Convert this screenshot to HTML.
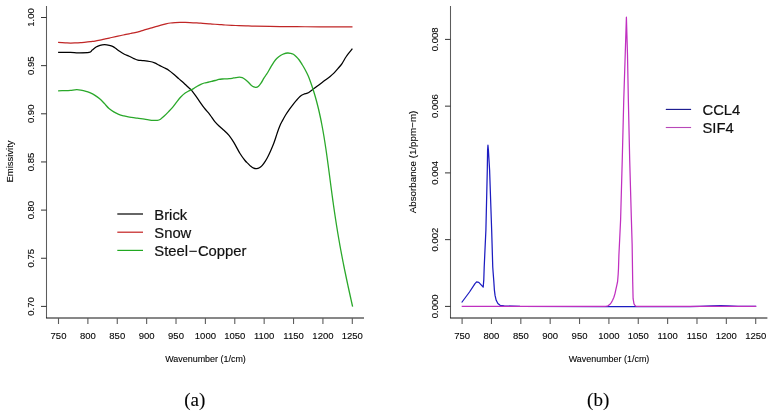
<!DOCTYPE html>
<html><head><meta charset="utf-8"><style>
html,body{margin:0;padding:0;background:#fff;overflow:hidden;}
svg{display:block;filter:blur(0.4px);}
text{font-family:"Liberation Sans", sans-serif;fill:#000;stroke:#222;stroke-width:0.12px;}
.lg{fill:#111;stroke:#111;stroke-width:0.2px;}
</style></head><body>
<svg width="774" height="416" viewBox="0 0 774 416">
<rect width="774" height="416" fill="#fff"/>
<path d="M46.5,6 L46.5,318" fill="none" stroke="#5c5c5c" stroke-width="1.05"/>
<path d="M46,318 L364,318" fill="none" stroke="#111" stroke-width="1"/>
<line x1="41" y1="17.5" x2="46.5" y2="17.5" stroke="#333" stroke-width="1"/>
<text transform="translate(34,17.5) rotate(-90)" text-anchor="middle" font-size="9.5">1.00</text>
<line x1="41" y1="65.65" x2="46.5" y2="65.65" stroke="#333" stroke-width="1"/>
<text transform="translate(34,65.65) rotate(-90)" text-anchor="middle" font-size="9.5">0.95</text>
<line x1="41" y1="113.8" x2="46.5" y2="113.8" stroke="#333" stroke-width="1"/>
<text transform="translate(34,113.8) rotate(-90)" text-anchor="middle" font-size="9.5">0.90</text>
<line x1="41" y1="161.95" x2="46.5" y2="161.95" stroke="#333" stroke-width="1"/>
<text transform="translate(34,161.95) rotate(-90)" text-anchor="middle" font-size="9.5">0.85</text>
<line x1="41" y1="210.1" x2="46.5" y2="210.1" stroke="#333" stroke-width="1"/>
<text transform="translate(34,210.1) rotate(-90)" text-anchor="middle" font-size="9.5">0.80</text>
<line x1="41" y1="258.25" x2="46.5" y2="258.25" stroke="#333" stroke-width="1"/>
<text transform="translate(34,258.25) rotate(-90)" text-anchor="middle" font-size="9.5">0.75</text>
<line x1="41" y1="306.4" x2="46.5" y2="306.4" stroke="#333" stroke-width="1"/>
<text transform="translate(34,306.4) rotate(-90)" text-anchor="middle" font-size="9.5">0.70</text>
<line x1="58.50" y1="318" x2="58.50" y2="324" stroke="#5c5c5c" stroke-width="1.1"/>
<text x="58.50" y="338.7" text-anchor="middle" font-size="9.5">750</text>
<line x1="87.88" y1="318" x2="87.88" y2="324" stroke="#5c5c5c" stroke-width="1.1"/>
<text x="87.88" y="338.7" text-anchor="middle" font-size="9.5">800</text>
<line x1="117.26" y1="318" x2="117.26" y2="324" stroke="#5c5c5c" stroke-width="1.1"/>
<text x="117.26" y="338.7" text-anchor="middle" font-size="9.5">850</text>
<line x1="146.64" y1="318" x2="146.64" y2="324" stroke="#5c5c5c" stroke-width="1.1"/>
<text x="146.64" y="338.7" text-anchor="middle" font-size="9.5">900</text>
<line x1="176.02" y1="318" x2="176.02" y2="324" stroke="#5c5c5c" stroke-width="1.1"/>
<text x="176.02" y="338.7" text-anchor="middle" font-size="9.5">950</text>
<line x1="205.40" y1="318" x2="205.40" y2="324" stroke="#5c5c5c" stroke-width="1.1"/>
<text x="205.40" y="338.7" text-anchor="middle" font-size="9.5">1000</text>
<line x1="234.78" y1="318" x2="234.78" y2="324" stroke="#5c5c5c" stroke-width="1.1"/>
<text x="234.78" y="338.7" text-anchor="middle" font-size="9.5">1050</text>
<line x1="264.16" y1="318" x2="264.16" y2="324" stroke="#5c5c5c" stroke-width="1.1"/>
<text x="264.16" y="338.7" text-anchor="middle" font-size="9.5">1100</text>
<line x1="293.54" y1="318" x2="293.54" y2="324" stroke="#5c5c5c" stroke-width="1.1"/>
<text x="293.54" y="338.7" text-anchor="middle" font-size="9.5">1150</text>
<line x1="322.92" y1="318" x2="322.92" y2="324" stroke="#5c5c5c" stroke-width="1.1"/>
<text x="322.92" y="338.7" text-anchor="middle" font-size="9.5">1200</text>
<line x1="352.30" y1="318" x2="352.30" y2="324" stroke="#5c5c5c" stroke-width="1.1"/>
<text x="352.30" y="338.7" text-anchor="middle" font-size="9.5">1250</text>
<text x="205.5" y="361.8" text-anchor="middle" font-size="8.95">Wavenumber (1/cm)</text>
<text transform="translate(13,161.5) rotate(-90)" text-anchor="middle" font-size="9.5">Emissivity</text>
<path d="M58.10,42.40 C59.30,42.47 63.23,42.69 65.30,42.80 C67.37,42.91 68.77,43.03 70.50,43.05 C72.23,43.07 73.98,42.97 75.70,42.90 C77.42,42.83 79.08,42.72 80.80,42.60 C82.52,42.48 84.27,42.37 86.00,42.20 C87.73,42.03 89.70,41.78 91.20,41.60 C92.70,41.42 93.53,41.35 95.00,41.10 C96.47,40.85 98.28,40.47 100.00,40.10 C101.72,39.73 103.55,39.29 105.30,38.90 C107.05,38.51 108.77,38.13 110.50,37.75 C112.23,37.37 113.95,36.98 115.70,36.60 C117.45,36.23 119.28,35.87 121.00,35.50 C122.72,35.13 124.42,34.73 126.00,34.40 C127.58,34.07 129.00,33.80 130.50,33.50 C132.00,33.20 133.42,32.97 135.00,32.60 C136.58,32.23 138.28,31.78 140.00,31.30 C141.72,30.82 143.55,30.22 145.30,29.70 C147.05,29.18 148.77,28.70 150.50,28.20 C152.23,27.70 153.95,27.20 155.70,26.70 C157.45,26.20 159.28,25.67 161.00,25.20 C162.72,24.73 164.42,24.27 166.00,23.90 C167.58,23.53 169.00,23.22 170.50,23.00 C172.00,22.78 173.42,22.69 175.00,22.60 C176.58,22.51 178.28,22.48 180.00,22.45 C181.72,22.42 183.63,22.42 185.30,22.45 C186.97,22.48 188.27,22.53 190.00,22.60 C191.73,22.68 193.90,22.80 195.70,22.90 C197.50,23.00 199.08,23.08 200.80,23.20 C202.52,23.32 204.38,23.48 206.00,23.60 C207.62,23.73 209.00,23.84 210.50,23.95 C212.00,24.06 213.42,24.14 215.00,24.25 C216.58,24.36 218.28,24.48 220.00,24.60 C221.72,24.73 222.68,24.85 225.30,25.00 C227.92,25.15 232.25,25.35 235.70,25.50 C239.15,25.65 242.78,25.78 246.00,25.90 C249.22,26.02 251.00,26.12 255.00,26.20 C259.00,26.28 264.17,26.33 270.00,26.40 C275.83,26.47 284.17,26.54 290.00,26.60 C295.83,26.66 298.33,26.72 305.00,26.75 C311.67,26.78 322.08,26.79 330.00,26.80 C337.92,26.81 348.75,26.80 352.50,26.80" fill="none" stroke="#c02626" stroke-width="1.25"/>
<path d="M58.10,52.40 C60.17,52.40 67.13,52.33 70.50,52.40 C73.87,52.47 75.20,52.80 78.30,52.80 C81.40,52.80 86.78,52.85 89.10,52.40 C91.42,51.95 91.03,51.00 92.20,50.10 C93.37,49.20 94.80,47.80 96.10,47.00 C97.40,46.20 98.58,45.68 100.00,45.30 C101.42,44.92 103.05,44.70 104.60,44.70 C106.15,44.70 107.88,44.98 109.30,45.30 C110.72,45.62 112.07,46.10 113.10,46.60 C114.13,47.10 114.42,47.52 115.50,48.30 C116.58,49.08 118.12,50.32 119.60,51.30 C121.08,52.28 122.80,53.38 124.40,54.20 C126.00,55.02 127.60,55.47 129.20,56.20 C130.80,56.93 132.55,57.93 134.00,58.60 C135.45,59.27 136.45,59.87 137.90,60.20 C139.35,60.53 140.72,60.38 142.70,60.60 C144.68,60.82 147.82,61.12 149.80,61.50 C151.78,61.88 153.00,62.25 154.60,62.90 C156.20,63.55 157.80,64.58 159.40,65.40 C161.00,66.22 162.60,66.97 164.20,67.80 C165.80,68.63 167.40,69.33 169.00,70.40 C170.60,71.47 172.18,72.83 173.80,74.20 C175.42,75.57 177.08,77.18 178.70,78.60 C180.32,80.02 181.95,81.30 183.50,82.70 C185.05,84.10 186.58,85.65 188.00,87.00 C189.42,88.35 190.33,88.77 192.00,90.80 C193.67,92.83 196.00,96.40 198.00,99.20 C200.00,102.00 202.03,105.03 204.00,107.60 C205.97,110.17 208.03,112.32 209.80,114.60 C211.57,116.88 213.00,119.35 214.60,121.30 C216.20,123.25 217.80,124.77 219.40,126.30 C221.00,127.83 222.60,129.00 224.20,130.50 C225.80,132.00 227.40,133.32 229.00,135.30 C230.60,137.28 231.97,139.37 233.80,142.40 C235.63,145.43 238.13,150.48 240.00,153.50 C241.87,156.52 243.68,158.85 245.00,160.50 C246.32,162.15 246.93,162.44 247.90,163.40 C248.87,164.36 249.83,165.45 250.80,166.25 C251.77,167.05 252.75,167.80 253.70,168.20 C254.65,168.60 255.55,168.73 256.50,168.65 C257.45,168.57 258.43,168.26 259.40,167.70 C260.37,167.14 261.33,166.35 262.30,165.30 C263.27,164.25 264.23,162.92 265.20,161.40 C266.17,159.88 267.13,158.12 268.10,156.20 C269.07,154.28 270.05,152.07 271.00,149.90 C271.95,147.73 272.97,145.38 273.80,143.20 C274.63,141.02 275.33,138.78 276.00,136.80 C276.67,134.82 277.17,133.12 277.80,131.30 C278.43,129.48 279.07,127.60 279.80,125.90 C280.53,124.20 281.23,122.92 282.20,121.10 C283.17,119.28 284.43,116.92 285.60,115.00 C286.77,113.08 288.00,111.30 289.20,109.60 C290.40,107.90 291.60,106.33 292.80,104.80 C294.00,103.27 295.20,101.80 296.40,100.40 C297.60,99.00 298.78,97.43 300.00,96.40 C301.22,95.38 302.48,94.78 303.70,94.25 C304.92,93.72 306.33,93.58 307.30,93.20 C308.27,92.83 308.50,92.68 309.50,92.00 C310.50,91.32 311.98,90.10 313.30,89.10 C314.62,88.10 316.03,87.03 317.40,86.00 C318.77,84.97 320.12,83.93 321.50,82.90 C322.88,81.87 324.32,80.83 325.70,79.80 C327.08,78.77 328.43,77.82 329.80,76.70 C331.17,75.58 332.52,74.48 333.90,73.10 C335.28,71.72 336.72,70.03 338.10,68.40 C339.48,66.77 340.83,65.28 342.20,63.30 C343.57,61.32 344.60,58.93 346.30,56.50 C348.00,54.07 351.38,50.00 352.40,48.70" fill="none" stroke="#000" stroke-width="1.25"/>
<path d="M58.10,90.85 C59.30,90.81 63.23,90.69 65.30,90.60 C67.37,90.51 68.60,90.45 70.50,90.30 C72.40,90.15 74.98,89.73 76.70,89.70 C78.42,89.67 79.25,89.83 80.80,90.10 C82.35,90.37 84.50,90.87 86.00,91.30 C87.50,91.73 88.37,92.07 89.80,92.70 C91.23,93.33 93.00,94.13 94.60,95.10 C96.20,96.07 97.80,97.13 99.40,98.50 C101.00,99.87 102.60,101.62 104.20,103.30 C105.80,104.98 107.40,107.17 109.00,108.60 C110.60,110.03 112.18,110.95 113.80,111.90 C115.42,112.85 117.08,113.65 118.70,114.30 C120.32,114.95 121.90,115.37 123.50,115.80 C125.10,116.23 126.02,116.50 128.30,116.90 C130.58,117.30 134.52,117.83 137.20,118.20 C139.88,118.57 142.00,118.75 144.40,119.10 C146.80,119.45 149.43,120.10 151.60,120.30 C153.77,120.50 155.92,120.48 157.40,120.30 C158.88,120.12 159.37,119.90 160.50,119.20 C161.63,118.50 162.88,117.32 164.20,116.10 C165.52,114.88 167.00,113.37 168.40,111.90 C169.80,110.43 171.20,108.98 172.60,107.30 C174.00,105.62 175.40,103.55 176.80,101.80 C178.20,100.05 179.60,98.27 181.00,96.80 C182.40,95.33 183.80,94.02 185.20,93.00 C186.60,91.98 188.00,91.43 189.40,90.70 C190.80,89.97 192.30,89.35 193.60,88.60 C194.90,87.85 196.00,86.90 197.20,86.20 C198.40,85.50 199.60,84.93 200.80,84.40 C202.00,83.87 203.20,83.36 204.40,83.00 C205.60,82.64 206.80,82.52 208.00,82.25 C209.20,81.98 210.40,81.69 211.60,81.40 C212.80,81.11 214.00,80.83 215.20,80.50 C216.40,80.17 217.60,79.65 218.80,79.40 C220.00,79.15 221.20,79.08 222.40,79.00 C223.60,78.92 224.82,78.97 226.00,78.90 C227.18,78.83 228.47,78.70 229.50,78.60 C230.53,78.50 231.15,78.47 232.20,78.30 C233.25,78.13 234.60,77.78 235.80,77.60 C237.00,77.42 238.32,77.20 239.40,77.20 C240.48,77.20 241.33,77.22 242.30,77.60 C243.27,77.98 244.23,78.76 245.20,79.50 C246.17,80.24 247.15,81.15 248.10,82.05 C249.05,82.95 249.95,84.09 250.90,84.90 C251.85,85.71 252.95,86.50 253.80,86.90 C254.65,87.30 255.27,87.38 256.00,87.30 C256.73,87.22 257.37,87.10 258.20,86.40 C259.03,85.70 260.05,84.48 261.00,83.10 C261.95,81.72 263.07,79.45 263.90,78.10 C264.73,76.75 265.32,76.02 266.00,75.00 C266.68,73.98 267.17,73.40 268.00,72.00 C268.83,70.60 270.00,68.30 271.00,66.60 C272.00,64.90 273.00,63.20 274.00,61.80 C275.00,60.40 275.85,59.30 277.00,58.20 C278.15,57.10 279.77,55.93 280.90,55.20 C282.03,54.47 282.68,54.17 283.80,53.80 C284.92,53.43 286.48,53.08 287.60,53.00 C288.72,52.92 289.53,53.09 290.50,53.30 C291.47,53.51 292.43,53.68 293.40,54.25 C294.37,54.82 295.33,55.74 296.30,56.70 C297.27,57.66 298.25,58.73 299.20,60.00 C300.15,61.27 301.05,62.77 302.00,64.30 C302.95,65.83 303.85,67.25 304.90,69.20 C305.95,71.15 307.33,73.87 308.27,76.00 C309.21,78.13 309.82,80.00 310.54,82.00 C311.26,84.00 311.95,86.00 312.61,88.00 C313.27,90.00 313.89,92.00 314.49,94.00 C315.09,96.00 315.66,98.00 316.21,100.00 C316.75,102.00 317.27,104.00 317.77,106.00 C318.27,108.00 318.75,110.00 319.21,112.00 C319.66,114.00 320.10,116.00 320.52,118.00 C320.94,120.00 321.34,122.00 321.72,124.00 C322.11,126.00 322.48,128.00 322.84,130.00 C323.20,132.00 323.54,134.00 323.88,136.00 C324.21,138.00 324.53,140.00 324.84,142.00 C325.16,144.00 325.46,146.00 325.76,148.00 C326.06,150.00 326.34,152.00 326.63,154.00 C326.91,156.00 327.19,158.00 327.46,160.00 C327.74,162.00 328.00,164.00 328.27,166.00 C328.54,168.00 328.80,170.00 329.07,172.00 C329.33,174.00 329.59,176.00 329.85,178.00 C330.12,180.00 330.38,182.00 330.64,184.00 C330.90,186.00 331.17,188.00 331.43,190.00 C331.70,192.00 331.97,194.00 332.24,196.00 C332.51,198.00 332.79,200.00 333.07,202.00 C333.34,204.00 333.63,206.00 333.91,208.00 C334.20,210.00 334.49,212.00 334.79,214.00 C335.09,216.00 335.39,218.00 335.70,220.00 C336.00,222.00 336.32,224.00 336.64,226.00 C336.96,228.00 337.28,230.00 337.61,232.00 C337.94,234.00 338.28,236.00 338.63,238.00 C338.97,240.00 339.32,242.00 339.68,244.00 C340.04,246.00 340.40,248.00 340.77,250.00 C341.14,252.00 341.52,254.00 341.90,256.00 C342.28,258.00 342.67,260.00 343.06,262.00 C343.46,264.00 343.86,266.00 344.26,268.00 C344.67,270.00 345.08,272.00 345.50,274.00 C345.91,276.00 346.33,278.00 346.76,280.00 C347.18,282.00 347.61,284.00 348.04,286.00 C348.48,288.00 348.91,290.00 349.35,292.00 C349.79,294.00 350.23,296.00 350.68,298.00 C351.12,300.00 351.69,302.55 352.01,304.00 C352.33,305.45 352.51,306.25 352.61,306.70" fill="none" stroke="#2aa82a" stroke-width="1.3"/>
<line x1="117.3" y1="214.0" x2="143.0" y2="214.0" stroke="#000" stroke-width="1.2"/>
<text class="lg" x="154.3" y="219.6" font-size="14.8">Brick</text>
<line x1="117.3" y1="232.2" x2="143.0" y2="232.2" stroke="#c42020" stroke-width="1.2"/>
<text class="lg" x="154.3" y="237.8" font-size="14.8">Snow</text>
<line x1="117.3" y1="250.4" x2="143.0" y2="250.4" stroke="#20a820" stroke-width="1.2"/>
<text class="lg" x="154.3" y="256.0" font-size="14.8">Steel<tspan dx='0.6'>−</tspan><tspan dx='0.6'>Copper</tspan></text>
<path d="M450.5,6 L450.5,318" fill="none" stroke="#5c5c5c" stroke-width="1.05"/>
<path d="M450,318 L767.4,318" fill="none" stroke="#111" stroke-width="1"/>
<line x1="445" y1="306.4" x2="450.5" y2="306.4" stroke="#333" stroke-width="1"/>
<text transform="translate(437.5,306.4) rotate(-90)" text-anchor="middle" font-size="9.5">0.000</text>
<line x1="445" y1="239.65" x2="450.5" y2="239.65" stroke="#333" stroke-width="1"/>
<text transform="translate(437.5,239.65) rotate(-90)" text-anchor="middle" font-size="9.5">0.002</text>
<line x1="445" y1="172.9" x2="450.5" y2="172.9" stroke="#333" stroke-width="1"/>
<text transform="translate(437.5,172.9) rotate(-90)" text-anchor="middle" font-size="9.5">0.004</text>
<line x1="445" y1="106.15" x2="450.5" y2="106.15" stroke="#333" stroke-width="1"/>
<text transform="translate(437.5,106.15) rotate(-90)" text-anchor="middle" font-size="9.5">0.006</text>
<line x1="445" y1="39.4" x2="450.5" y2="39.4" stroke="#333" stroke-width="1"/>
<text transform="translate(437.5,39.4) rotate(-90)" text-anchor="middle" font-size="9.5">0.008</text>
<line x1="462.10" y1="318" x2="462.10" y2="324" stroke="#5c5c5c" stroke-width="1.1"/>
<text x="462.10" y="338.7" text-anchor="middle" font-size="9.5">750</text>
<line x1="491.46" y1="318" x2="491.46" y2="324" stroke="#5c5c5c" stroke-width="1.1"/>
<text x="491.46" y="338.7" text-anchor="middle" font-size="9.5">800</text>
<line x1="520.82" y1="318" x2="520.82" y2="324" stroke="#5c5c5c" stroke-width="1.1"/>
<text x="520.82" y="338.7" text-anchor="middle" font-size="9.5">850</text>
<line x1="550.18" y1="318" x2="550.18" y2="324" stroke="#5c5c5c" stroke-width="1.1"/>
<text x="550.18" y="338.7" text-anchor="middle" font-size="9.5">900</text>
<line x1="579.54" y1="318" x2="579.54" y2="324" stroke="#5c5c5c" stroke-width="1.1"/>
<text x="579.54" y="338.7" text-anchor="middle" font-size="9.5">950</text>
<line x1="608.90" y1="318" x2="608.90" y2="324" stroke="#5c5c5c" stroke-width="1.1"/>
<text x="608.90" y="338.7" text-anchor="middle" font-size="9.5">1000</text>
<line x1="638.26" y1="318" x2="638.26" y2="324" stroke="#5c5c5c" stroke-width="1.1"/>
<text x="638.26" y="338.7" text-anchor="middle" font-size="9.5">1050</text>
<line x1="667.62" y1="318" x2="667.62" y2="324" stroke="#5c5c5c" stroke-width="1.1"/>
<text x="667.62" y="338.7" text-anchor="middle" font-size="9.5">1100</text>
<line x1="696.98" y1="318" x2="696.98" y2="324" stroke="#5c5c5c" stroke-width="1.1"/>
<text x="696.98" y="338.7" text-anchor="middle" font-size="9.5">1150</text>
<line x1="726.34" y1="318" x2="726.34" y2="324" stroke="#5c5c5c" stroke-width="1.1"/>
<text x="726.34" y="338.7" text-anchor="middle" font-size="9.5">1200</text>
<line x1="755.70" y1="318" x2="755.70" y2="324" stroke="#5c5c5c" stroke-width="1.1"/>
<text x="755.70" y="338.7" text-anchor="middle" font-size="9.5">1250</text>
<text x="609" y="361.8" text-anchor="middle" font-size="8.95">Wavenumber (1/cm)</text>
<text transform="translate(415.6,162) rotate(-90)" text-anchor="middle" font-size="9.8">Absorbance (1/ppm−m)</text>
<path d="M461.70,302.50 L469.50,292.00 L475.00,283.60 L476.60,281.90 L478.80,282.40 L483.20,287.10 L483.80,279.60 L484.20,267.00 L485.90,230.00 L487.30,170.00 L487.60,150.00 L487.95,145.20 L488.40,150.00 L489.60,170.00 L491.66,230.00 L492.75,267.00 L493.10,272.00 L493.80,281.10 L494.40,290.20 L495.10,295.70 L496.20,300.30 L497.90,303.50 L500.10,305.30 L504.20,305.90 L520.00,306.30 L600.00,306.50 L690.00,306.50 L700.00,306.30 L712.00,305.90 L720.50,305.60 L728.00,305.90 L738.00,306.30 L756.20,306.40" fill="none" stroke="#1c1cc0" stroke-width="1.25" stroke-linejoin="round"/>
<path d="M461.70,306.40 L600.00,306.40 L604.60,306.30 L606.50,306.10 L608.00,305.80 L609.70,304.60 L611.30,302.60 L612.60,300.20 L613.90,297.30 L615.00,293.60 L615.90,289.40 L616.90,284.80 L617.60,281.50 L618.20,274.00 L618.50,268.20 L618.90,255.00 L619.40,245.00 L620.60,220.00 L622.25,160.00 L623.75,100.00 L625.20,55.00 L626.40,17.20 L627.50,55.00 L628.35,100.00 L629.70,160.00 L631.40,220.00 L632.15,245.00 L632.30,255.00 L632.70,281.50 L633.10,298.70 L634.00,303.90 L635.00,305.50 L635.70,306.00 L637.00,306.40 L756.20,306.40" fill="none" stroke="#c030c0" stroke-width="1.25" stroke-linejoin="round"/>
<line x1="665.8" y1="109.4" x2="691.1" y2="109.4" stroke="#12128c" stroke-width="1.1"/>
<text class="lg" x="702.5" y="114.9" font-size="14.8">CCL4</text>
<line x1="665.8" y1="127.5" x2="691.1" y2="127.5" stroke="#b848b8" stroke-width="1.1"/>
<text class="lg" x="702.5" y="133.0" font-size="14.8">SIF4</text>
<text x="194.7" y="406.2" text-anchor="middle" style="font-family:'Liberation Serif', serif" font-size="19">(a)</text>
<text x="598.2" y="406.2" text-anchor="middle" style="font-family:'Liberation Serif', serif" font-size="19">(b)</text>
</svg>
</body></html>
